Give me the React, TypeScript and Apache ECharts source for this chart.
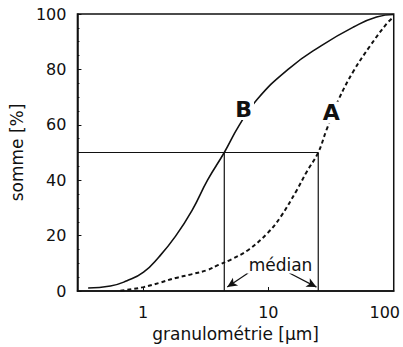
import React, { useEffect, useRef } from 'react';
import * as echarts from 'echarts';

const xMin = 0.3;
const xMax = 100;
const yTicks = [0, 20, 40, 60, 80, 100];

// curve B (solid)
const curveB: [number, number][] = [
  [0.365, 1.1], [0.55, 1.8], [0.745, 3.7], [1.01, 6.8], [1.34, 12.3], [1.82, 19.8],
  [2.47, 29.2], [3.28, 40.1], [4.45, 50], [5.8, 59.5], [8.0, 68.8], [14.7, 80.4],
  [26.5, 88.6], [47.8, 95.3], [73, 98.9], [100, 99.8],
];

// curve A (dashed)
const curveA: [number, number][] = [
  [0.66, 0.1], [0.745, 0.4], [1.01, 1.4], [1.34, 2.9], [1.82, 4.7], [2.47, 6.1],
  [3.28, 7.6], [4.0, 9.4], [5.1, 11.5], [7, 15], [9.9, 21], [12.5, 26.7],
  [16.9, 36.5], [20.2, 43], [25, 50], [29, 58], [36.5, 69.3], [47.8, 79.4],
  [64.6, 88.4], [87.5, 96.4], [100, 99],
];

const medianB = 4.45;
const medianA = 25;
const medianLevel = 50;

const labelB: [number, number] = [6.35, 65.7];
const labelA: [number, number] = [31.8, 64.4];
const labelMedian: [number, number] = [12.5, 9.4];
const arrowLeft: [number, number][] = [[6.9, 6.5], [4.7, 1.4]];
const arrowRight: [number, number][] = [[14.7, 6.5], [24.2, 1.4]];

const FONT = 'DejaVu Sans';
const INK = '#111';

export default function App() {
  const ref = useRef<HTMLDivElement>(null);
  useEffect(() => {
    if (!ref.current) return;
    const chart = echarts.init(ref.current, undefined, { renderer: 'svg' });
    const textLabel = (coord: [number, number], text: string, size: number, bold: boolean) => ({
      coord,
      symbol: 'rect',
      symbolSize: 1,
      itemStyle: { color: 'rgba(0,0,0,0)' },
      label: {
        show: true,
        position: 'inside',
        formatter: text,
        fontFamily: FONT,
        fontSize: size,
        fontWeight: bold ? 'bold' : 'normal',
        color: INK,
        backgroundColor: '#fff',
        padding: [0, 2],
      },
    });
    chart.setOption({
      animation: false,
      grid: {
        left: 74,
        right: 3,
        top: 14,
        bottom: 56,
        show: true,
        borderColor: INK,
        borderWidth: 1.5,
      },
      xAxis: {
        type: 'log',
        min: xMin,
        max: xMax,
        logBase: 10,
        name: 'granulométrie [µm]',
        nameLocation: 'middle',
        nameGap: 34,
        nameTextStyle: { fontFamily: FONT, fontSize: 17, color: INK },
        axisLine: { lineStyle: { color: INK, width: 1.5 } },
        axisTick: { inside: true, length: 4, lineStyle: { color: INK } },
        splitLine: { show: false },
        axisLabel: {
          showMinLabel: false,
          fontFamily: FONT,
          fontSize: 16,
          color: INK,
          margin: 13,
          formatter: (v: number) => (Math.abs(v - 100) < 1e-6 ? '{r|100}' : String(Math.round(v))),
          rich: { r: { fontFamily: FONT, fontSize: 16, color: INK, padding: [0, 18, 0, 0] } },
        },
      },
      yAxis: {
        type: 'value',
        min: yTicks[0],
        max: yTicks[yTicks.length - 1],
        interval: 20,
        name: 'somme [%]',
        nameLocation: 'middle',
        nameGap: 48,
        nameTextStyle: { fontFamily: FONT, fontSize: 17, color: INK },
        axisLine: { show: true, lineStyle: { color: INK, width: 1.5 } },
        axisTick: { show: true, inside: true, length: 4, lineStyle: { color: INK } },
        minorTick: { show: true, splitNumber: 4, length: 2, lineStyle: { color: INK } },
        splitLine: { show: false },
        axisLabel: { fontFamily: FONT, fontSize: 16, color: INK, margin: 11 },
      },
      series: [
        {
          type: 'line',
          data: [[xMin, medianLevel], [medianA, medianLevel], [medianA, 0]],
          showSymbol: false,
          lineStyle: { color: INK, width: 1.2 },
          z: 1,
          markLine: {
            silent: true,
            symbol: ['none', 'arrow'],
            symbolSize: [7, 10],
            lineStyle: { color: INK, width: 1.2, type: 'solid' },
            label: { show: false },
            data: [
              [{ coord: arrowLeft[0] }, { coord: arrowLeft[1] }],
              [{ coord: arrowRight[0] }, { coord: arrowRight[1] }],
            ],
          },
          markPoint: {
            data: [textLabel(labelMedian, 'médian', 17, false)],
          },
        },
        {
          type: 'line',
          data: [[medianB, 0], [medianB, medianLevel]],
          showSymbol: false,
          lineStyle: { color: INK, width: 1.2 },
          z: 1,
        },
        {
          type: 'line',
          data: curveB,
          smooth: 0.5,
          showSymbol: false,
          lineStyle: { color: INK, width: 1.6 },
          z: 2,
          markPoint: { data: [textLabel(labelB, 'B', 22, true)] },
        },
        {
          type: 'line',
          data: curveA,
          smooth: 0.4,
          showSymbol: false,
          lineStyle: { color: INK, width: 2, type: [4, 3] },
          z: 2,
          markPoint: { data: [textLabel(labelA, 'A', 22, true)] },
        },
      ],
    });
    return () => chart.dispose();
  }, []);
  return (
    <div
      ref={ref}
      style={{ position: 'absolute', left: 0, top: 0, width: 403, height: 347, background: '#fff' }}
    />
  );
}
